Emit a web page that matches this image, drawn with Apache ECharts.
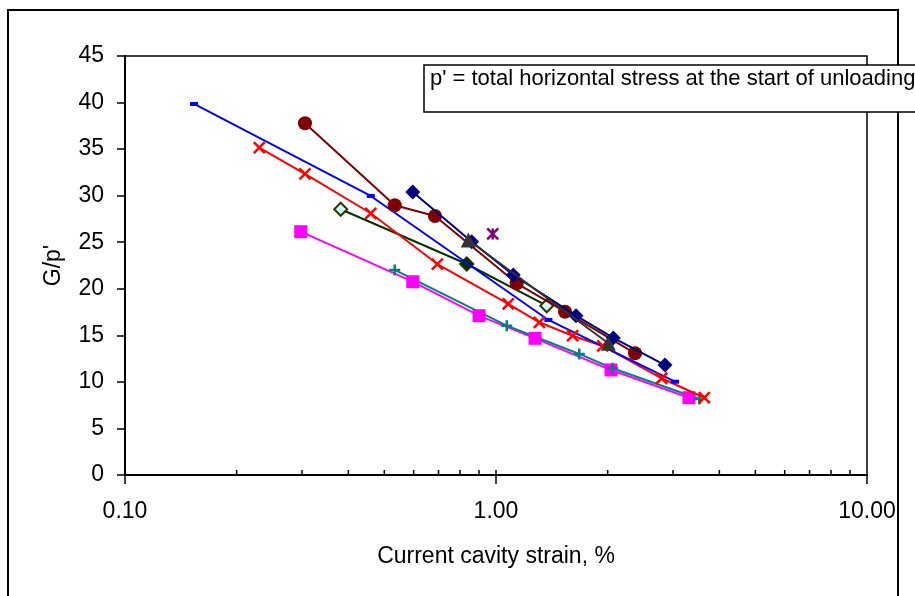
<!DOCTYPE html>
<html><head><meta charset="utf-8">
<script src="https://cdn.jsdelivr.net/npm/echarts@6/dist/echarts.min.js"></script>
<style>html,body{margin:0;padding:0;background:#fff}#c{width:915px;height:596px}</style>
</head><body><div id="c"></div>
<script>
// ---- data (x = current cavity strain %, y = G/p') ----
const blueData    = [[0.1535,39.85],[0.4596,29.97],[1.384,16.65],[3.038,10.02]];
const redData     = [[0.2301,35.16],[0.3056,32.33],[0.4596,28.11],[0.6947,22.66],[1.079,18.37],[1.308,16.40],[1.609,14.96],[1.939,13.86],[2.797,10.39],[3.644,8.30]];
const brownData   = [[0.3056,37.78],[0.5333,28.97],[0.6848,27.82],[1.137,20.59],[1.535,17.54],[2.370,13.07]];
const navyData    = [[0.5965,30.40],[0.8601,25.06],[1.113,21.48],[1.643,17.11],[2.071,14.72],[2.855,11.81]];
const grayData    = [[0.842,25.24],[2.008,14.15]];
const greenData   = [[0.3815,28.54],[0.834,22.66],[1.370,18.18]];
const greenFilled = [[0.834,22.66]];
const tealData    = [[0.5333,22.02],[1.069,16.04],[1.677,13.00],[2.063,11.46],[3.532,8.16]];
const magentaData = [[0.2976,26.13],[0.5965,20.76],[0.900,17.11],[1.274,14.68],[2.042,11.28],[3.313,8.30]];
const purpleData  = [[0.9797,25.89]];
const minorTickValues = [0.2,0.3,0.4,0.5,0.6,0.7,0.8,0.9,1,2,3,4,5,6,7,8,9];
const xAxisTitle = 'Current cavity strain, %';
const yAxisTitle = "G/p'";
const noteText = "p' = total horizontal stress at the start of unloading";

const FONT = 'Liberation Sans, Arial, sans-serif';
const chart = echarts.init(document.getElementById('c'));

function lineSeries(name, data, color, symbol, size, itemStyle, z) {
  return {
    name, type: 'line', data, symbol, symbolSize: size, z: z || 2,
    lineStyle: { color, width: 2 },
    itemStyle: Object.assign({ color }, itemStyle || {}),
    showAllSymbol: true, clip: false
  };
}

const xPath = 'path://M0,0L10,10M10,0L0,10';
const plusPath = 'path://M5,0L5,10M0,5L10,5';
const starPath = 'path://M0,0L10,10M10,0L0,10M5,0L5,10';

chart.setOption({
  animation: false,
  backgroundColor: '#fff',
  grid: { left: 125, right: 48, top: 56, bottom: 121, show: true, borderColor: '#000', borderWidth: 1.5, backgroundColor: 'transparent' },
  xAxis: {
    type: 'log', logBase: 10, min: 0.1, max: 10,
    name: xAxisTitle, nameLocation: 'middle', nameGap: 70,
    nameTextStyle: { fontFamily: FONT, fontSize: 23, color: '#000' },
    axisLine: { lineStyle: { color: '#000', width: 2 } },
    axisTick: { show: true, inside: false, length: 9, lineStyle: { color: '#000', width: 1.5 } },
    axisLabel: { fontFamily: FONT, fontSize: 23, color: '#000', margin: 25, formatter: v => Number(v).toFixed(2) },
    splitLine: { show: false }, minorTick: { show: false }
  },
  yAxis: {
    type: 'value', min: 0, max: 45, interval: 5,
    name: yAxisTitle, nameLocation: 'middle', nameGap: 60, nameRotate: 90,
    nameTextStyle: { fontFamily: FONT, fontSize: 23, color: '#000' },
    axisLine: { show: true, lineStyle: { color: '#000', width: 2 } },
    axisTick: { show: true, inside: false, length: 8, lineStyle: { color: '#000', width: 1.5 } },
    axisLabel: { fontFamily: FONT, fontSize: 23, color: '#000', margin: 21 },
    splitLine: { show: false }
  },
  series: [
    {
      type: 'custom', data: minorTickValues.map(v => [v, 0]), z: 5, silent: true, clip: false,
      encode: { x: 0, y: 1 },
      renderItem: (params, api) => {
        const p = api.coord([api.value(0), api.value(1)]);
        return { type: 'line', shape: { x1: p[0], y1: p[1], x2: p[0], y2: p[1] - 5 }, style: { stroke: '#000', lineWidth: 1.5 } };
      }
    },
    lineSeries('green', greenData, '#003300', 'diamond', 13, { color: '#CCFFFF', borderColor: '#333300', borderWidth: 2 }, 2),
    lineSeries('greenFilled', greenFilled, '#003300', 'diamond', 14, { color: '#003300', borderColor: '#333300', borderWidth: 1 }, 3),
    lineSeries('magenta', magentaData, '#FF00FF', 'rect', 13, null, 3),
    lineSeries('teal', tealData, '#008080', plusPath, 11, { color: 'none', borderColor: '#008080', borderWidth: 2.5 }, 3),
    lineSeries('red', redData, '#FF0000', xPath, 11, { color: 'none', borderColor: '#FF0000', borderWidth: 2.5 }, 4),
    lineSeries('blue', blueData, '#0000FF', 'rect', [8, 4], null, 4),
    lineSeries('brown', brownData, '#800000', 'circle', 14, null, 5),
    lineSeries('navy', navyData, '#000080', 'diamond', 15, null, 6),
    lineSeries('gray', grayData, '#333333', 'triangle', 15, null, 7),
    lineSeries('purple', purpleData, '#800080', starPath, 11, { color: 'none', borderColor: '#800080', borderWidth: 2.5 }, 7)
  ],
  graphic: [
    { type: 'rect', z: 0, silent: true, shape: { x: 8, y: 10, width: 890, height: 600 }, style: { fill: 'none', stroke: '#000', lineWidth: 2 } },
    { type: 'rect', z: 100, silent: true, shape: { x: 424, y: 65, width: 520, height: 47 }, style: { fill: '#fff', stroke: '#000', lineWidth: 1.5 } },
    { type: 'text', z: 101, silent: true, left: 430, top: 68, style: { text: noteText, fontFamily: FONT, fontSize: 22, fill: '#000' } }
  ]
});
</script></body></html>
